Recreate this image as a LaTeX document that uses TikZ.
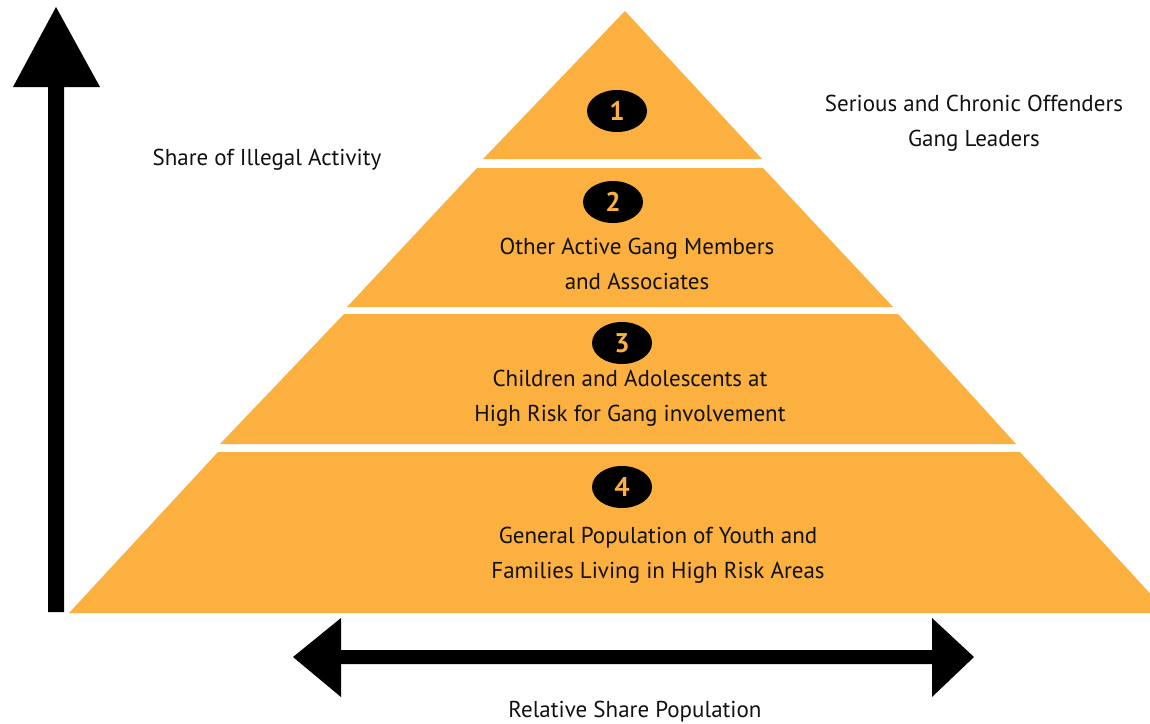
\documentclass[tikz,border=0pt]{standalone}
\usepackage{fontspec}
\setmainfont{PT Sans}
\usetikzlibrary{shapes.geometric}
\definecolor{pyr}{HTML}{FBB040}
\definecolor{ink}{HTML}{111111}
\tikzset{
  tier/.style={fill=pyr, draw=none},
  badge/.style={ellipse, fill=black, minimum width=60pt, minimum height=42pt, inner sep=0pt,
     text=pyr, font=\fontsize{27}{27}\selectfont\bfseries},
  lbl/.style={text=ink, font=\fontsize{23}{35}\selectfont, align=center, inner sep=0pt},
  arrowshape/.style={fill=black, draw=none}
}
\begin{document}
\begin{tikzpicture}[x=1pt,y=-1pt]
\useasboundingbox (0,0) rectangle (1150,723);
% pyramid tiers
\fill[tier] (625,11) -- (762,159) -- (483,159) -- cycle;
\fill[tier] (477,168) -- (763,168) -- (893,307) -- (347,307) -- cycle;
\fill[tier] (344,314) -- (898,314) -- (1016,444) -- (220,444) -- cycle;
\fill[tier] (218,452) -- (1020,452) -- (1168,613) -- (69,613) -- cycle;
% vertical arrow
\fill[arrowshape] (48,612) -- (48,87) -- (13,87) -- (56,7) -- (100,87) -- (64,87) -- (64,612) -- cycle;
% horizontal arrow
\fill[arrowshape] (293,657) -- (341,618) -- (341,650) -- (932,650) -- (932,618) -- (974,657)
   -- (932,697) -- (932,664) -- (341,664) -- (341,697) -- cycle;
% badges
\node[badge] (b1) at (617,111) {1};
\node[badge] (b2) at (613,202) {2};
\node[badge] (b3) at (622,343) {3};
\node[badge] (b4) at (622,487) {4};
% labels
\node[lbl] (t2) at (637,264) {Other Active Gang Members\\and Associates};
\node[lbl] (t3) at (630,398) {Children and Adolescents at\\High Risk for Gang involvement};
\node[lbl] (t4) at (658,555) {General Population of Youth and\\Families Living in High Risk Areas};
\node[lbl] (t1) at (974,123) {Serious and Chronic Offenders\\Gang Leaders};
\node[lbl] (ya) at (267,160) {Share of Illegal Activity};
\node[lbl] (xa) at (635,712) {Relative Share Population};
\end{tikzpicture}
\end{document}
